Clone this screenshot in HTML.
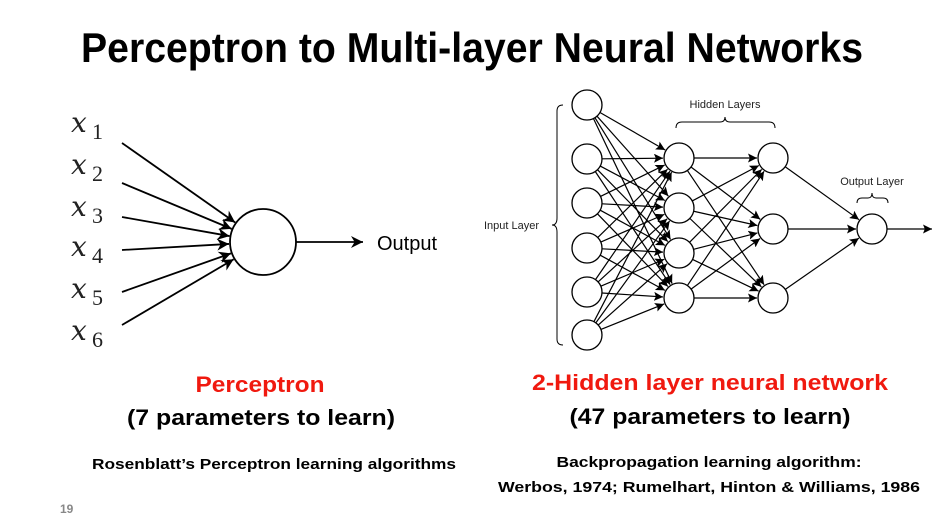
<!DOCTYPE html>
<html><head><meta charset="utf-8"><style>
html,body{margin:0;padding:0;background:#fff;}
svg{display:block;}
</style></head><body>
<svg id="s" width="938" height="526" viewBox="0 0 938 526" xmlns="http://www.w3.org/2000/svg" font-family="Liberation Sans, sans-serif">
<defs>
<marker id="a" viewBox="0 0 10 10" refX="10" refY="5" markerWidth="9" markerHeight="9" orient="auto" markerUnits="userSpaceOnUse"><path d="M0,0 L10,5 L0,10 L2,5 z" fill="#000"/></marker>
<marker id="b" viewBox="0 0 10 10" refX="10" refY="5" markerWidth="12" markerHeight="12" orient="auto" markerUnits="userSpaceOnUse"><path d="M0,0 L10,5 L0,10 L3,5 z" fill="#000"/></marker>
</defs>
<text x="81" y="62" font-size="42" font-weight="bold" textLength="782" lengthAdjust="spacingAndGlyphs">Perceptron to Multi-layer Neural Networks</text>

<g font-family="DejaVu Serif, Liberation Serif, serif" font-style="italic" font-size="28" fill="#222">
<text x="71" y="132">x</text><text x="71" y="174">x</text><text x="71" y="216">x</text><text x="71" y="256">x</text><text x="71" y="298">x</text><text x="71" y="340">x</text>
</g>
<g font-family="Liberation Serif, serif" font-size="22" fill="#222">
<text x="92" y="139">1</text><text x="92" y="181">2</text><text x="92" y="223">3</text><text x="92" y="263">4</text><text x="92" y="305">5</text><text x="92" y="347">6</text>
</g>
<g id="perc" stroke="#000" stroke-width="1.8" fill="none"></g>
<circle cx="263" cy="242" r="33" fill="#fff" stroke="#000" stroke-width="1.8"/>
<line x1="296" y1="242" x2="363" y2="242" stroke="#000" stroke-width="1.8" marker-end="url(#b)"/>
<text x="377" y="250" font-size="20">Output</text>

<g id="net" stroke="#000" stroke-width="1.2" fill="none"></g>
<g id="nodes" fill="#fff" stroke="#000" stroke-width="1.3"></g>
<g font-size="11" fill="#222">
<text x="725" y="108" text-anchor="middle">Hidden Layers</text>
<text x="872" y="185" text-anchor="middle">Output Layer</text>
<text x="484" y="229">Input Layer</text>
</g>
<g stroke="#000" stroke-width="1" fill="none">
<path d="M676,128 Q676,122 682,122 L720,122 Q725,122 725,117 Q725,122 730,122 L769,122 Q775,122 775,128"/>
<path d="M857,203 Q857,198 862,198 L868,198 Q872,198 872,193 Q872,198 876,198 L883,198 Q888,198 888,203"/>
<path d="M563,105 Q557,105 557,111 L557,218 Q557,225 552,225 Q557,225 557,232 L557,339 Q557,345 563,345"/>
</g>

<g font-weight="bold" text-anchor="middle">
<text x="260" y="392" font-size="22" fill="#f0190f" textLength="129" lengthAdjust="spacingAndGlyphs">Perceptron</text>
<text x="261" y="425" font-size="22" textLength="268" lengthAdjust="spacingAndGlyphs">(7 parameters to learn)</text>
<text x="274" y="469" font-size="15" textLength="364" lengthAdjust="spacingAndGlyphs">Rosenblatt’s Perceptron learning algorithms</text>
<text x="710" y="390" font-size="22" fill="#f0190f" textLength="356" lengthAdjust="spacingAndGlyphs">2-Hidden layer neural network</text>
<text x="710" y="424" font-size="22" textLength="281" lengthAdjust="spacingAndGlyphs">(47 parameters to learn)</text>
<text x="709" y="467" font-size="15" textLength="305" lengthAdjust="spacingAndGlyphs">Backpropagation learning algorithm:</text>
<text x="709" y="492" font-size="15" textLength="422" lengthAdjust="spacingAndGlyphs">Werbos, 1974; Rumelhart, Hinton &amp; Williams, 1986</text>
</g>
<text x="60" y="513" font-size="12" fill="#888" font-weight="bold">19</text>
</svg>
<script>
var NS="http://www.w3.org/2000/svg";
function ln(g,x1,y1,x2,y2,m){var l=document.createElementNS(NS,"line");l.setAttribute("x1",x1);l.setAttribute("y1",y1);l.setAttribute("x2",x2);l.setAttribute("y2",y2);l.setAttribute("marker-end","url(#"+m+")");g.appendChild(l);}
var pg=document.getElementById("perc");
[143,183,217,250,292,325].forEach(function(y){var dx=263-122,dy=242-y,d=Math.hypot(dx,dy);ln(pg,122,y,263-dx/d*34,242-dy/d*34,"b");});
var L=[[587,[105,159,203,248,292,335]],[679,[158,208,253,298]],[773,[158,229,298]],[872,[229]]];
var r=15,ng=document.getElementById("net"),nd=document.getElementById("nodes");
for(var i=0;i<3;i++){L[i][1].forEach(function(y1){L[i+1][1].forEach(function(y2){var x1=L[i][0],x2=L[i+1][0],dx=x2-x1,dy=y2-y1,d=Math.hypot(dx,dy);ln(ng,x1+dx/d*r,y1+dy/d*r,x2-dx/d*(r+1),y2-dy/d*(r+1),"a");});});}
ln(ng,887,229,932,229,"a");
L.forEach(function(c){c[1].forEach(function(y){var e=document.createElementNS(NS,"circle");e.setAttribute("cx",c[0]);e.setAttribute("cy",y);e.setAttribute("r",r);nd.appendChild(e);});});
</script>
</body></html>
